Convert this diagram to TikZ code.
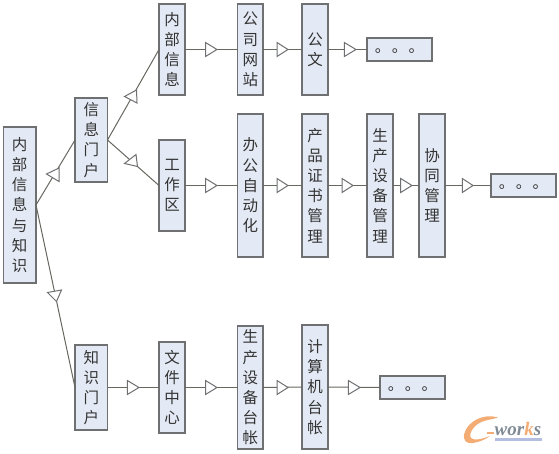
\documentclass[tikz,border=0pt]{standalone}
\usepackage{fontspec}
\setmainfont{Noto Sans CJK SC}
\newfontfamily\logofont{Liberation Serif}
\definecolor{boxfill}{HTML}{E4EAF5}
\definecolor{boxline}{HTML}{6E7072}
\definecolor{connline}{HTML}{66685F}
\definecolor{logoorange}{HTML}{F2AC74}
\definecolor{logogray}{HTML}{7F8A94}
\definecolor{logoblue}{HTML}{B4BEE0}
\tikzset{
  x=1pt,y=-1pt,
  blockbox/.style={draw=boxline,line width=1.3pt,fill=boxfill,inner sep=0pt,outer sep=0pt,align=center,
    font=\fontsize{15.5}{20.2}\selectfont,text=black!80},
  conn/.style={draw=connline,line width=1pt},
  tri/.style={draw=boxline,line width=1pt,fill=white!96!boxfill},
}
\newcommand{\bx}[6]{%
  \node[blockbox,minimum width=#4 pt - #2 pt,minimum height=#5 pt - #3 pt,anchor=center] (#1) at ({(#2+#4)/2},{(#3+#5)/2}) {#6};}
\newcommand{\rtri}[3]{\draw[tri] (#1,#3-7) -- (#2,#3) -- (#1,#3+7) -- cycle;}
\begin{document}
\begin{tikzpicture}
\useasboundingbox (0,0) rectangle (559,453);
\def\dotstext{\raisebox{-2.5pt}[0pt][0pt]{。\hspace{1.4pt}。\hspace{1.4pt}。}}
\bx{root}{3.5}{127}{36}{283}{内\\部\\信\\息\\与\\知\\识}
\bx{xxmh}{75}{98}{107.5}{182}{信\\息\\门\\户}
\bx{nbxx}{159}{4}{185}{95}{内\\部\\信\\息}
\bx{gswz}{237.5}{4}{263}{95}{公\\司\\网\\站}
\bx{gw}{302}{4}{328}{95}{公\\文}
\bx{dotsa}{367}{38}{432}{61}{\dotstext}
\bx{gzq}{159}{140}{185}{231}{工\\作\\区}
\bx{bgzdh}{237.5}{114}{263}{257}{办\\公\\自\\动\\化}
\bx{cpzs}{302}{114}{328}{257}{产\\品\\证\\书\\管\\理}
\bx{scsb}{367}{114}{393}{257}{生\\产\\设\\备\\管\\理}
\bx{xtgl}{419}{114}{445}{257}{协\\同\\管\\理}
\bx{dotsb}{491}{174}{556}{197}{\dotstext}
\bx{zsmh}{75}{345}{107.5}{430}{知\\识\\门\\户}
\bx{wjzx}{159}{342}{185}{433}{文\\件\\中\\心}
\bx{sctz}{237.5}{326}{263}{449}{生\\产\\设\\备\\台\\帐}
\bx{jsj}{302}{325}{328}{449}{计\\算\\机\\台\\帐}
\bx{dotsc}{380}{376}{445}{399}{\dotstext}
% connectors
\draw[conn] (root.east) -- (xxmh.west);
\draw[conn] (root.east) -- (zsmh.west);
\draw[conn] (xxmh.east) -- (nbxx.west);
\draw[conn] (xxmh.east) -- (gzq.west);
\draw[conn] (nbxx.east) -- (gswz.west);
\draw[conn] (gswz.east) -- (gw.west);
\draw[conn] (gw.east) -- (dotsa.west);
\draw[conn] (gzq.east) -- (bgzdh.west);
\draw[conn] (bgzdh.east) -- (cpzs.west);
\draw[conn] (cpzs.east) -- (scsb.west);
\draw[conn] (scsb.east) -- (xtgl.west);
\draw[conn] (xtgl.east) -- (dotsb.west);
\draw[conn] (zsmh.east) -- (wjzx.west);
\draw[conn] (wjzx.east) -- (sctz.west);
\draw[conn] (sctz.east) -- (jsj.west);
\draw[conn] (jsj.east) -- (dotsc.west);
% triangles on horizontal connectors
\rtri{205.5}{217}{49.5}
\rtri{277}{288}{49.5}
\rtri{344.3}{356}{49.5}
\rtri{205.5}{217}{185.5}
\rtri{277}{288}{185.5}
\rtri{342}{353}{185.5}
\rtri{400.7}{412}{185.5}
\rtri{462.3}{473}{185.5}
\rtri{127.3}{139}{387.5}
\rtri{205.5}{217}{387.5}
\rtri{277}{288}{387.5}
\rtri{348.3}{360}{387.5}
% triangles on slanted connectors
\draw[tri] (124.5,96.5) -- (136.5,90) -- (137,103) -- cycle;
\draw[tri] (124.5,163.5) -- (136,154.5) -- (137.5,166.5) -- cycle;
\draw[tri] (46.5,174) -- (59,168) -- (59,181.5) -- cycle;
\draw[tri] (47.5,292.5) -- (61.5,290) -- (56.5,301.5) -- cycle;
% logo
\fill[logoorange] (498,417.5) .. controls (484,413) and (468,421) .. (464.5,433)
  .. controls (462,441) and (467,444) .. (473,443)
  .. controls (480,442) and (486,439) .. (490,436)
  .. controls (482,439) and (474,441) .. (471,438)
  .. controls (468,434) and (474,424) .. (484,421)
  .. controls (489,419.5) and (494,419) .. (498,417.5) -- cycle;
\fill[logoorange] (487,431.5) rectangle (494,434);
\fill[logoblue] (495,438) rectangle (542,441);
\node[anchor=base west,inner sep=0pt,text=logogray,font=\logofont\bfseries\itshape\fontsize{19}{19}\selectfont] (logo) at (494.5,435.5) {wor{\color{logoorange}k}s};
\end{tikzpicture}
\end{document}
